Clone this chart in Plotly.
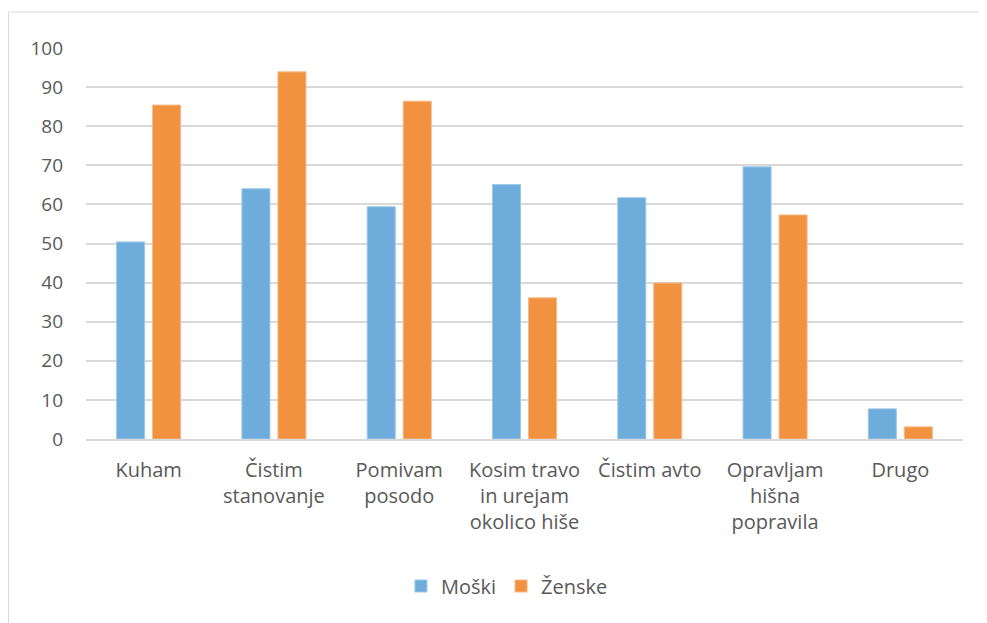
import plotly.graph_objects as go

categories = ["Kuham", "Čistim<br>stanovanje", "Pomivam<br>posodo", "Kosim travo<br>in urejam<br>okolico hiše",
              "Čistim avto", "Opravljam<br>hišna<br>popravila", "Drugo"]
moski = [50.4, 64.0, 59.4, 65.1, 61.7, 69.6, 7.7]
zenske = [85.4, 93.9, 86.4, 36.1, 39.9, 57.3, 3.1]
y_ticks = [0, 10, 20, 30, 40, 50, 60, 70, 80, 90, 100]

FONT = "Open Sans"
OFF = 8  # page body margin
W, H = 987 - OFF, 623 - OFF
L, R, T, B = 86 - OFF, 24, 48 - OFF, 184

fig = go.Figure()
fig.add_trace(go.Bar(name="Moški", x=categories, y=moski, marker=dict(color="#6DACDB", line=dict(color="#9CC8EA", width=1))))
fig.add_trace(go.Bar(name="Ženske", x=categories, y=zenske, marker=dict(color="#F19241", line=dict(color="#F6B987", width=1))))

pw = W - L - R
ph = H - T - B
def px_to_paper_x(px):
    return (px - OFF - L) / pw
def px_to_paper_y(py):
    return (H - B - (py - OFF)) / ph

fig.add_shape(type="rect", xref="paper", yref="paper",
              x0=px_to_paper_x(8.5), x1=px_to_paper_x(1000), y0=px_to_paper_y(640), y1=px_to_paper_y(12),
              line=dict(color="#D9D9D9", width=1), fillcolor="rgba(0,0,0,0)", layer="below")

fig.update_layout(
    width=W, height=H,
    margin=dict(l=L, r=R, t=T, b=B),
    paper_bgcolor="white", plot_bgcolor="white",
    barmode="group", bargap=0.425, bargroupgap=0.222,
    font=dict(family=FONT, size=19, color="#595959"),
    xaxis=dict(tickfont=dict(size=20, color="#595959"), showgrid=False, zeroline=False,
               showline=True, linecolor="#D9D9D9", linewidth=1.5, ticks="", ticklabelstandoff=12),
    yaxis=dict(range=[0, 100], tickvals=y_ticks, tickfont=dict(size=19, color="#595959"),
               showgrid=True, gridcolor="#D9D9D9", gridwidth=1.5, zeroline=False, ticks="",
               ticklen=0, ticklabelstandoff=22),
    legend=dict(orientation="h", x=0.48, xanchor="center", y=px_to_paper_y(586), yanchor="middle",
                font=dict(size=20, color="#595959"), itemwidth=30, traceorder="normal"),
    showlegend=True,
)
fig.write_html("out.html")
